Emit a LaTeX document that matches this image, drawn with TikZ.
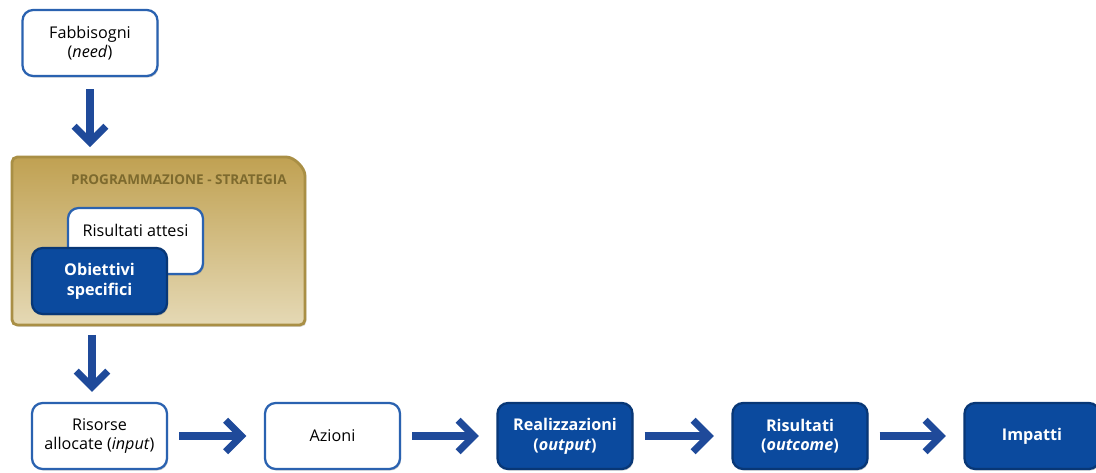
\documentclass[tikz,border=0pt]{standalone}
\usepackage{fontspec}
\setmainfont{Open Sans}
\usetikzlibrary{arrows.meta,shadows}

\definecolor{boxblue}{HTML}{0B4A9E}
\definecolor{lineblue}{HTML}{2A62B0}
\definecolor{arrowblue}{HTML}{1F4A9A}
\definecolor{goldtop}{HTML}{C0A152}
\definecolor{goldbot}{HTML}{E5D9B5}
\definecolor{goldline}{HTML}{A98F45}
\definecolor{goldtext}{HTML}{7D6A2E}

\tikzstyle{open box}=[draw=lineblue,fill=white,line width=1.3pt,rounded corners=6pt,
    minimum width=2.7cm,minimum height=1.32cm,align=center,
    font=\fontsize{9.2}{11.2}\selectfont,
    drop shadow={shadow xshift=0.6pt,shadow yshift=-0.9pt,opacity=0.35}]
\tikzstyle{full box}=[open box,fill=boxblue,draw=boxblue!75!black,text=white,
    font=\fontsize{9.2}{11.2}\selectfont\bfseries]
\tikzstyle{flow}=[draw=arrowblue,line width=4pt,
    -{Straight Barb[length=9pt,width=18pt]}]

\begin{document}
\begin{tikzpicture}[x=0.02cm,y=-0.02cm]
    \useasboundingbox (0,0) rectangle (1096,473);

    % pannello programmazione
    \draw[goldline,line width=1.6pt,top color=goldtop,bottom color=goldbot,
          drop shadow={shadow xshift=0.8pt,shadow yshift=-1pt,opacity=0.3}]
        (12,325) [rounded corners=3pt] -- (12,157) -- (281,157)
        .. controls (294.25,157) and (305,167.75) .. (305,181) -- (305,325) -- cycle;
    \node[anchor=east,text=goldtext,font=\fontsize{7.7}{9}\selectfont\bfseries]
        (titolo) at (293,180) {PROGRAMMAZIONE - STRATEGIA};
    \coordinate (paneltop) at (90,157);
    \coordinate (panelbot) at (92,325);

    \node[open box] (need) at (90,43) {Fabbisogni\\(\textit{need})};
    \node[open box] (attesi) at (135.5,241) {Risultati attesi\\[-2pt]\strut};
    \node[full box] (obiettivi) at (99.5,281) {Obiettivi\\specifici};

    \foreach \pos/\name/\txt in {{(99.5,436)/risorse/Risorse\\allocate (\textit{input})},
                                 {(332.5,436)/azioni/Azioni}}
        \node[open box] (\name) at \pos {\txt};
    \foreach \pos/\name/\txt in {{(565,436)/output/Realizzazioni\\(\textit{output})},
                                 {(800,436)/outcome/Risultati\\(\textit{outcome})},
                                 {(1032,436)/impatti/Impatti}}
        \node[full box] (\name) at \pos {\txt};

    \path[flow,shorten <=0.24cm,shorten >=0.2cm] (need) -- (paneltop);
    \path[flow,shorten <=0.2cm,shorten >=0.2cm] (panelbot) -- (panelbot |- risorse.north);
    \foreach \source/\dest in {risorse/azioni, azioni/output, output/outcome, outcome/impatti}
        \path[flow,shorten <=0.22cm,shorten >=0.35cm] (\source) -- (\dest);
\end{tikzpicture}
\end{document}
